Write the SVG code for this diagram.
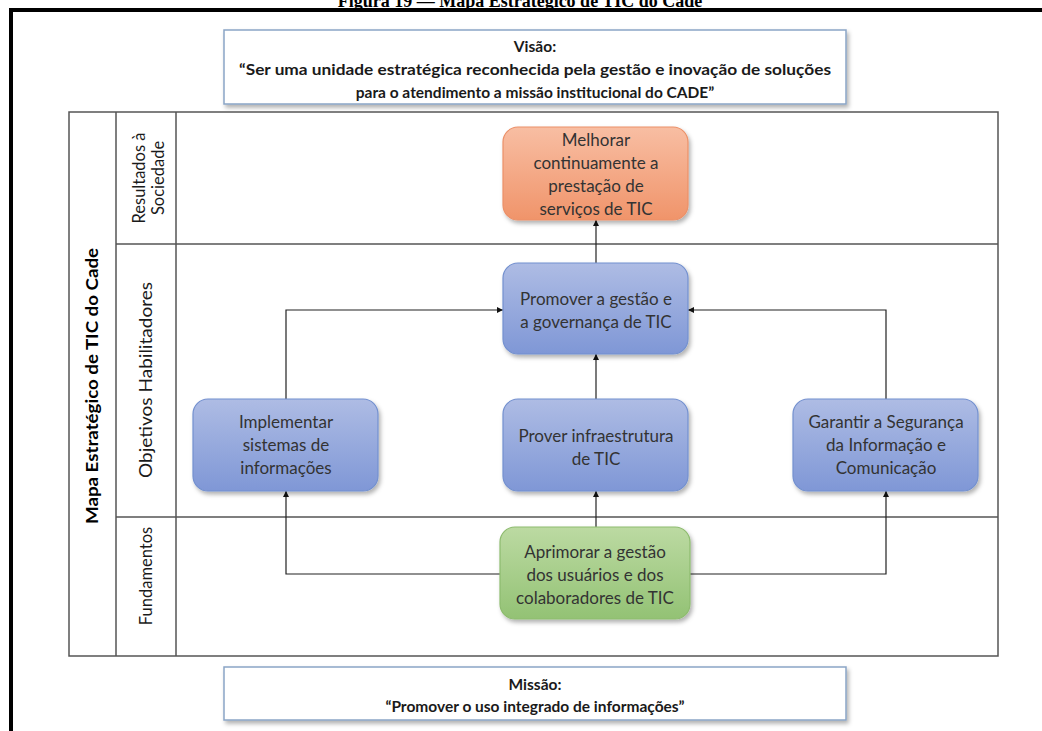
<svg xmlns="http://www.w3.org/2000/svg" width="1042" height="731" viewBox="0 0 1042 731">
  <style>
    .title { font-family: "Liberation Serif", serif; font-weight: bold; font-size: 18px; fill: #000; }
    .box { fill: #fff; stroke: #8aa5c6; stroke-width: 1.5; }
    .boxtxt { font-family: Lato, "Open Sans", sans-serif; font-weight: bold; font-size: 15.5px; fill: #1a1a1a; text-anchor: middle; }
    .grid { fill: none; stroke: #555; stroke-width: 1.5; }
    .lane { font-family: Lato, "Open Sans", sans-serif; font-size: 16.5px; fill: #1a1a1a; text-anchor: middle; }
    .lanebold { font-family: Lato, "Open Sans", sans-serif; font-weight: bold; font-size: 17.5px; fill: #000; text-anchor: middle; }
    .node text { font-family: Lato, "Open Sans", sans-serif; font-size: 17px; fill: #333; text-anchor: middle; }
    .conn { fill: none; stroke: #222; stroke-width: 1.2; marker-end: url(#arrow); }
  </style>
  <defs>
    <linearGradient id="gOrange" x1="0" y1="0" x2="0" y2="1">
      <stop offset="0" stop-color="#f8bea3"/>
      <stop offset="1" stop-color="#f0946a"/>
    </linearGradient>
    <linearGradient id="gBlue" x1="0" y1="0" x2="0" y2="1">
      <stop offset="0" stop-color="#aebce4"/>
      <stop offset="1" stop-color="#7f97d6"/>
    </linearGradient>
    <linearGradient id="gGreen" x1="0" y1="0" x2="0" y2="1">
      <stop offset="0" stop-color="#bcdaa2"/>
      <stop offset="1" stop-color="#93c274"/>
    </linearGradient>
    <filter id="shadow" x="-10%" y="-10%" width="125%" height="130%">
      <feDropShadow dx="2" dy="3" stdDeviation="2" flood-color="#000" flood-opacity="0.3"/>
    </filter>
    <marker id="arrow" viewBox="0 0 10 10" refX="10" refY="5" markerWidth="6" markerHeight="6" orient="auto" markerUnits="userSpaceOnUse">
      <path d="M0,0 L10,5 L0,10 z" fill="#111"/>
    </marker>
  </defs>

  <rect width="1042" height="731" fill="#fff"/>

  <!-- caption, cut at the top edge -->
  <text class="title" x="520" y="7" text-anchor="middle">Figura 19 — Mapa Estratégico de TIC do Cade</text>

  <!-- outer page frame -->
  <path d="M11,731 V10 H1042" fill="none" stroke="#000" stroke-width="4"/>

  <!-- vision -->
  <g id="visao">
    <rect class="box" x="224" y="30" width="622" height="74" filter="url(#shadow)"/>
    <text class="boxtxt" x="535" y="52">Visão:</text>
    <text class="boxtxt" x="535" y="75" textLength="592" lengthAdjust="spacingAndGlyphs">“Ser uma unidade estratégica reconhecida pela gestão e inovação de soluções</text>
    <text class="boxtxt" x="535" y="98">para o atendimento a missão institucional do CADE”</text>
  </g>

  <!-- lanes grid -->
  <g id="grade">
    <rect class="grid" x="69" y="112" width="929" height="544"/>
    <line class="grid" x1="116" y1="112" x2="116" y2="656"/>
    <line class="grid" x1="176" y1="112" x2="176" y2="656"/>
    <line class="grid" x1="116" y1="244" x2="998" y2="244"/>
    <line class="grid" x1="116" y1="517" x2="998" y2="517"/>
    <text class="lanebold" transform="translate(98,386) rotate(-90)" textLength="276" lengthAdjust="spacingAndGlyphs">Mapa Estratégico de TIC do Cade</text>
    <text class="lane" transform="translate(145,178) rotate(-90)">Resultados à</text>
    <text class="lane" transform="translate(164,178) rotate(-90)">Sociedade</text>
    <text class="lane" transform="translate(152,380) rotate(-90)" textLength="196" lengthAdjust="spacingAndGlyphs">Objetivos Habilitadores</text>
    <text class="lane" transform="translate(152,576) rotate(-90)">Fundamentos</text>
  </g>

  <!-- connectors -->
  <g id="conectores">
    <path class="conn" d="M596,263 V220"/>
    <path class="conn" d="M596,399 V354"/>
    <path class="conn" d="M286,399 V310 H503"/>
    <path class="conn" d="M886,399 V310 H688"/>
    <path class="conn" d="M596,527 V491"/>
    <path class="conn" d="M500,574 H286 V491"/>
    <path class="conn" d="M690,574 H886 V491"/>
  </g>

  <g id="melhorar" class="node">
    <rect x="503" y="127" width="185" height="93" rx="15" fill="url(#gOrange)" stroke="#eb9068" stroke-width="1.2" filter="url(#shadow)"/>
    <text x="596" y="146">Melhorar</text>
    <text x="596" y="169">continuamente a</text>
    <text x="596" y="192">prestação de</text>
    <text x="596" y="215">serviços de TIC</text>
  </g>

  <g id="promover" class="node">
    <rect x="503" y="263" width="185" height="91" rx="15" fill="url(#gBlue)" stroke="#7390cf" stroke-width="1.2" filter="url(#shadow)"/>
    <text x="596" y="305">Promover a gestão e</text>
    <text x="596" y="328">a governança de TIC</text>
  </g>

  <g id="implementar" class="node">
    <rect x="193" y="399" width="185" height="92" rx="15" fill="url(#gBlue)" stroke="#7390cf" stroke-width="1.2" filter="url(#shadow)"/>
    <text x="286" y="428">Implementar</text>
    <text x="286" y="451">sistemas de</text>
    <text x="286" y="474">informações</text>
  </g>

  <g id="prover" class="node">
    <rect x="503" y="399" width="185" height="92" rx="15" fill="url(#gBlue)" stroke="#7390cf" stroke-width="1.2" filter="url(#shadow)"/>
    <text x="596" y="442">Prover infraestrutura</text>
    <text x="596" y="465">de TIC</text>
  </g>

  <g id="garantir" class="node">
    <rect x="793" y="399" width="185" height="92" rx="15" fill="url(#gBlue)" stroke="#7390cf" stroke-width="1.2" filter="url(#shadow)"/>
    <text x="886" y="428">Garantir a Segurança</text>
    <text x="886" y="451">da Informação e</text>
    <text x="886" y="474">Comunicação</text>
  </g>

  <g id="aprimorar" class="node">
    <rect x="500" y="527" width="190" height="92" rx="15" fill="url(#gGreen)" stroke="#8dbb6e" stroke-width="1.2" filter="url(#shadow)"/>
    <text x="595" y="558">Aprimorar a gestão</text>
    <text x="595" y="581">dos usuários e dos</text>
    <text x="595" y="604">colaboradores de TIC</text>
  </g>

  <!-- mission -->
  <g id="missao">
    <rect class="box" x="224" y="667" width="622" height="53" filter="url(#shadow)"/>
    <text class="boxtxt" x="535" y="690">Missão:</text>
    <text class="boxtxt" x="535" y="712">“Promover o uso integrado de informações”</text>
  </g>
</svg>
